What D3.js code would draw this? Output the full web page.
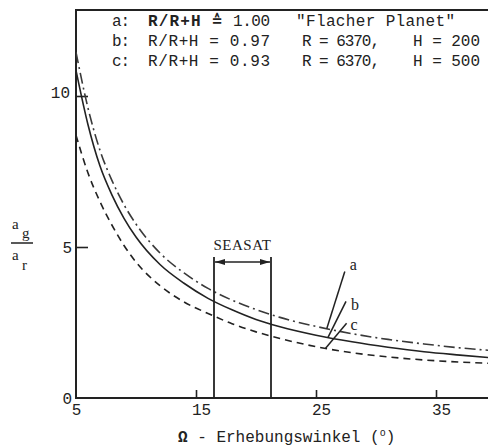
<!DOCTYPE html>
<html lang="de">
<head>
<meta charset="utf-8" />
<title>ag/ar - Erhebungswinkel</title>
<style>
  body { margin: 0; background: #fff; }
  svg text { fill: #222; }
  .mono { font-family: "Liberation Mono", "DejaVu Sans Mono", monospace; font-size: 15px; }
  .serif { font-family: "Liberation Serif", "DejaVu Serif", serif; font-size: 15px; }
  .tick line { stroke: #222; stroke-width: 1.6; }
</style>
</head>
<body>
<div id="chart"></div>
<script src="https://d3js.org/d3.v7.min.js"></script>
<script>
// Erhebungswinkel (Grad)
var omega = [5, 6, 7, 8, 9, 10, 12, 14, 16, 18, 20, 22, 25, 28, 31, 34, 37, 40];
// a: R/R+H ~ 1.00 (flacher Planet)
var seriesA = [11.45, 9.6, 8.2, 7.2, 6.4, 5.76, 4.8, 4.14, 3.63, 3.24, 2.93, 2.67, 2.37, 2.13, 1.94, 1.79, 1.66, 1.56];
// b: R/R+H = 0.97
var seriesB = [10.85, 9.05, 7.68, 6.72, 5.95, 5.33, 4.42, 3.8, 3.3, 2.92, 2.6, 2.36, 2.08, 1.86, 1.68, 1.53, 1.42, 1.32];
// c: R/R+H = 0.93
var seriesC = [8.7, 7.45, 6.5, 5.72, 5.05, 4.5, 3.72, 3.18, 2.8, 2.46, 2.19, 1.97, 1.7, 1.5, 1.36, 1.26, 1.19, 1.14];
var xTicks = [5, 15, 25, 35];
var yTicks = [0, 5, 10];
var seasat = [16.5, 21.25];
var labelOmega = [25.9, 26.0, 25.8];
var seriesNames = ['a', 'b', 'c'];

var width = 488, height = 446;

var x = d3.scaleLinear().domain([5, 35]).range([76, 436]);
var y = d3.scaleLinear().domain([0, 10]).range([398, 96]);
var xMax = x.invert(width), yMax = 12.85;

var svg = d3.select('#chart').append('svg')
  .attr('width', width)
  .attr('height', height);

var defs = svg.append('defs');
defs.append('clipPath').attr('id', 'plot')
  .append('rect')
  .attr('x', x(5)).attr('y', y(yMax))
  .attr('width', x(xMax) - x(5)).attr('height', y(0) - y(yMax));

// rahmen
var frame = svg.append('g').attr('stroke', '#222').attr('stroke-width', 2).attr('fill', 'none');
frame.append('line').attr('x1', x(5)).attr('x2', x(5)).attr('y1', y(0) + 1).attr('y2', y(yMax));
frame.append('line').attr('x1', x(5)).attr('x2', x(xMax)).attr('y1', y(0)).attr('y2', y(0));
frame.append('line').attr('x1', x(5) - 1).attr('x2', x(xMax)).attr('y1', y(yMax)).attr('y2', y(yMax));

var xAxis = svg.append('g')
  .attr('transform', 'translate(0,' + y(0) + ')')
  .call(d3.axisBottom(x).tickValues(xTicks).tickSize(-8).tickPadding(6).tickFormat(d3.format('d')));
xAxis.select('.domain').remove();
xAxis.selectAll('.tick').filter(function(d) { return d === 5; }).select('line').remove();
xAxis.selectAll('text').attr('class', 'mono')
  .attr('dx', function(d) { return d === 5 ? 0 : 5; })
  .attr('fill', '#222').style('font-size', '16px');

var yAxis = svg.append('g')
  .attr('transform', 'translate(' + x(5) + ',0)')
  .call(d3.axisLeft(y).tickValues(yTicks).tickSize(-12).tickPadding(4));
yAxis.select('.domain').remove();
yAxis.selectAll('.tick').filter(function(d) { return d === 0; }).select('line').remove();
yAxis.selectAll('text').attr('class', 'mono')
  .attr('dx', function(d) { return d === 10 ? -2 : 0; })
  .attr('dy', function(d) { return d === 10 ? '0.1em' : '0.32em'; })
  .attr('fill', '#222').style('font-size', '16px');

// kurven
var curves = [seriesA, seriesB, seriesC];
var dashes = ['11,4,2,4', null, '7,5'];
var strokes = ['#3a3a3a', '#222', '#222'];

var line = d3.line()
  .x(function(d) { return x(d[0]); })
  .y(function(d) { return y(d[1]); })
  .curve(d3.curveMonotoneX);

svg.append('g').attr('clip-path', 'url(#plot)')
  .selectAll('path')
  .data(curves)
  .enter().append('path')
  .attr('d', function(vals) { return line(d3.zip(omega, vals)); })
  .attr('fill', 'none')
  .attr('stroke', function(d, i) { return strokes[i]; })
  .attr('stroke-width', 1.6)
  .attr('stroke-dasharray', function(d, i) { return dashes[i]; });

// bezeichnungen a, b, c
var leader = [[18, -57], [18, -36], [21, -25]];
var labelOff = [[5, -2], [5, 9], [4, 7]];
seriesNames.forEach(function(name, i) {
  var val = d3.scaleLinear().domain(omega).range(curves[i]);
  var px = x(labelOmega[i]), py = y(val(labelOmega[i]));
  var sx = px + leader[i][0], sy = py + leader[i][1];
  svg.append('line')
    .attr('x1', px).attr('y1', py).attr('x2', sx).attr('y2', sy)
    .attr('stroke', '#222').attr('stroke-width', 1.5);
  svg.append('text').attr('class', 'serif')
    .attr('x', sx + labelOff[i][0]).attr('y', sy + labelOff[i][1])
    .style('font-size', '16px')
    .text(name);
});

// SEASAT bereich
var arrowY = 262;
defs.append('marker').attr('id', 'arr').attr('viewBox', '0 0 10 6')
  .attr('refX', 10).attr('refY', 3).attr('markerWidth', 10).attr('markerHeight', 6)
  .attr('markerUnits', 'userSpaceOnUse').attr('orient', 'auto-start-reverse')
  .append('path').attr('d', 'M0,0 L10,3 L0,6 Z').attr('fill', '#222');

svg.selectAll('.seasat')
  .data(seasat)
  .enter().append('line')
  .attr('class', 'seasat')
  .attr('x1', function(d) { return x(d); }).attr('x2', function(d) { return x(d); })
  .attr('y1', arrowY - 5).attr('y2', y(0))
  .attr('stroke', '#222').attr('stroke-width', 1.8);

svg.append('line')
  .attr('x1', x(seasat[0]) + 1).attr('x2', x(seasat[1]) - 1)
  .attr('y1', arrowY).attr('y2', arrowY)
  .attr('stroke', '#222').attr('stroke-width', 1.3)
  .attr('marker-start', 'url(#arr)').attr('marker-end', 'url(#arr)');

svg.append('text').attr('class', 'serif')
  .attr('x', (x(seasat[0]) + x(seasat[1])) / 2).attr('y', 250)
  .attr('text-anchor', 'middle')
  .style('letter-spacing', '0.5px')
  .text('SEASAT');

// legende oben: [text, x, breite, fett]
var legend = [
  [['a:', 112, 18], ['R/R+H \u2259', 148, 74, true], ['1.00', 233, 37], ['"Flacher Planet"', 296, 159]],
  [['b:', 112, 18], ['R/R+H = 0.97', 148, 122], ['R = 6370,', 302, 78], ['H = 200', 413, 67]],
  [['c:', 112, 18], ['R/R+H = 0.93', 148, 122], ['R = 6370,', 302, 78], ['H = 500', 413, 67]]
];
legend.forEach(function(row, r) {
  row.forEach(function(cell) {
    svg.append('text').attr('class', 'mono')
      .attr('x', cell[1])
      .attr('y', 26 + r * 20)
      .attr('textLength', cell[2])
      .attr('lengthAdjust', 'spacing')
      .style('font-size', '16px')
      .style('font-weight', cell[3] ? 'bold' : 'normal')
      .text(cell[0]);
  });
});

// achsentitel
var xt = svg.append('text').attr('class', 'mono')
  .attr('x', 178).attr('y', 442)
  .style('font-size', '16px');
xt.append('tspan').style('font-weight', 'bold').text('\u03a9');
xt.append('tspan').text(' - Erhebungswinkel (');
xt.append('tspan').attr('dy', -6).style('font-size', '10px').text('o');
xt.append('tspan').attr('dy', 6).text(')');

var yl = svg.append('g').attr('class', 'serif');
yl.append('text').attr('x', 12).attr('y', 229).text('a');
yl.append('text').attr('x', 22).attr('y', 238).text('g');
yl.append('line').attr('x1', 11).attr('x2', 33).attr('y1', 243).attr('y2', 243)
  .attr('stroke', '#222').attr('stroke-width', 1.5);
yl.append('text').attr('x', 12).attr('y', 260).text('a');
yl.append('text').attr('x', 22).attr('y', 270).text('r');
</script>
</body>
</html>
